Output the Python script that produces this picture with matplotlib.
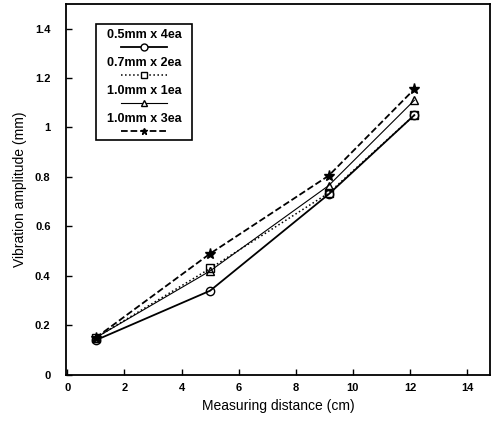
import matplotlib
matplotlib.use('Agg')
import matplotlib.pyplot as plt
from matplotlib.patches import Rectangle
from matplotlib.lines import Line2D

plt.rcParams['font.family'] = ['Liberation Sans', 'DejaVu Sans']

distance_cm = [1.0, 5.0, 9.15, 12.15]
amp_05x4 = [0.14, 0.34, 0.73, 1.05]
amp_07x2 = [0.15, 0.43, 0.735, 1.05]
amp_10x1 = [0.15, 0.42, 0.765, 1.11]
amp_10x3 = [0.15, 0.49, 0.805, 1.155]

labels = ['0.5mm x 4ea', '0.7mm x 2ea', '1.0mm x 1ea', '1.0mm x 3ea']
styles = [('-', 'o', 1.3), (':', 's', 1.1), ('-', '^', 0.8), ('--', '*', 1.3)]
series = [amp_05x4, amp_07x2, amp_10x1, amp_10x3]

x_ticks = [0, 2, 4, 6, 8, 10, 12, 14]
y_ticks = [0, 0.2, 0.4, 0.6, 0.8, 1.0, 1.2, 1.4]
y_tick_labels = ['0', '0.2', '0.4', '0.6', '0.8', '1', '1.2', '1.4']

fig = plt.figure(figsize=(4.95, 4.24), dpi=100)
ax = fig.add_axes([0.133, 0.116, 0.857, 0.875])

for vals, (ls, mk, lw) in zip(series, styles):
    ms = 8 if mk == '*' else 6
    ax.plot(distance_cm, vals, linestyle=ls, color='black', linewidth=lw,
            marker=mk, markersize=ms, markerfacecolor='none' if mk != '*' else 'black',
            markeredgecolor='black', markeredgewidth=1.0)

ax.set_xlim(-0.05, 14.8)
ax.set_ylim(0, 1.5)
ax.set_xticks(x_ticks)
ax.set_yticks(y_ticks)
ax.set_yticklabels(y_tick_labels)
ax.tick_params(direction='in', length=4, width=1, labelsize=8)
ax.tick_params(axis='y', pad=11)
ax.tick_params(axis='x', pad=6)
for lab in ax.get_xticklabels() + ax.get_yticklabels():
    lab.set_fontweight('bold')
for sp in ax.spines.values():
    sp.set_linewidth(1.3)

ax.set_xlabel('Measuring distance (cm)', fontsize=10, labelpad=4)
ax.set_ylabel('Vibration amplitude (mm)', fontsize=10, labelpad=6)

# hand-made legend: label above its line sample
box = Rectangle((0.071, 0.633), 0.226, 0.313, transform=ax.transAxes,
                fill=False, edgecolor='black', linewidth=1.2)
ax.add_patch(box)
for i, (lab, (ls, mk, lw)) in enumerate(zip(labels, styles)):
    ty = 0.916 - i * 0.0755
    ax.text(0.184, ty, lab, transform=ax.transAxes, ha='center', va='center',
            fontsize=9, fontweight='bold')
    ly = ty - 0.033
    ax.add_line(Line2D([0.13, 0.238], [ly, ly], transform=ax.transAxes,
                       color='black', linestyle=ls, linewidth=lw))
    ax.add_line(Line2D([0.184], [ly], transform=ax.transAxes, color='black',
                       marker=mk, markersize=5, markerfacecolor='white' if mk != '*' else 'black',
                       markeredgecolor='black', linestyle='none'))

fig.savefig('out.png', dpi=100)
